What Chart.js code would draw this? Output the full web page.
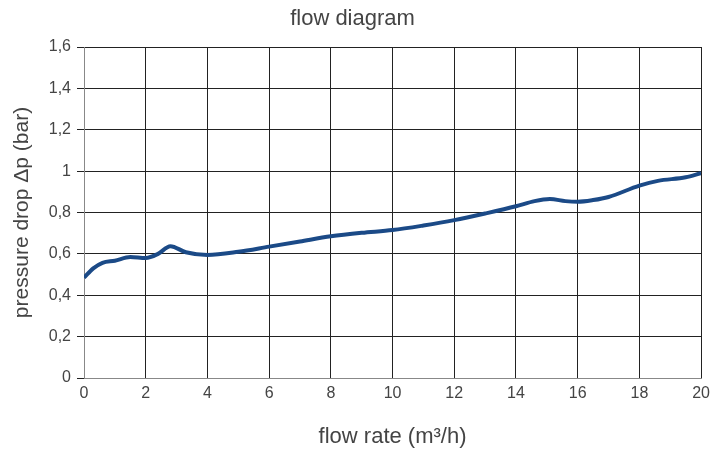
<!DOCTYPE html>
<html>
<head>
<meta charset="utf-8">
<script src="https://cdn.jsdelivr.net/npm/chart.js@4"></script>
<style>
  body { margin: 0; background: #fff; }
  canvas { display: block; }
</style>
</head>
<body>
<canvas id="flowChart" width="716" height="450"></canvas>
<script>
// flow rate (m3/h) and pressure drop (bar)
const flowRate = [0, 0.3, 0.6, 1, 1.5, 2, 2.4, 2.8, 3.3, 4, 5, 6, 7, 8, 9, 10, 11, 12, 13, 14, 14.6, 15.1, 15.6, 16, 16.5, 17, 18, 18.6, 19.5, 20];
const pressureDrop = [0.485, 0.53, 0.557, 0.567, 0.585, 0.58, 0.6, 0.637, 0.608, 0.595, 0.61, 0.635, 0.66, 0.685, 0.702, 0.715, 0.737, 0.763, 0.795, 0.83, 0.855, 0.865, 0.855, 0.852, 0.86, 0.875, 0.93, 0.953, 0.97, 0.99];

const xTicks = [0, 2, 4, 6, 8, 10, 12, 14, 16, 18, 20];
const yTicks = [0, 0.2, 0.4, 0.6, 0.8, 1, 1.2, 1.4, 1.6];

const fontFamily = "'Liberation Sans', Arial, sans-serif";
const textColor = "#444";

const points = flowRate.map((x, i) => ({ x: x, y: pressureDrop[i] }));

const ctx = document.getElementById("flowChart").getContext("2d");
const flowChart = new Chart(ctx, {
  type: "scatter",
  data: {
    datasets: [{
      data: points,
      showLine: true,
      borderColor: "#1b4a87",
      borderWidth: 4,
      pointRadius: 0,
      cubicInterpolationMode: "monotone",
      fill: false
    }]
  },
  options: {
    responsive: false,
    animation: false,
    layout: { padding: { left: 0, right: 11, top: 0, bottom: 0 } },
    plugins: {
      legend: { display: false },
      tooltip: { enabled: false },
      title: {
        display: true,
        text: "flow diagram",
        color: textColor,
        font: { family: fontFamily, size: 22, weight: "normal" },
        padding: { top: 6, bottom: 14.6 }
      }
    },
    scales: {
      x: {
        type: "linear",
        min: 0,
        max: 20,
        afterBuildTicks: (scale) => { scale.ticks = xTicks.map(v => ({ value: v })); },
        afterFit: (scale) => { scale.height = 72; },
        ticks: {
          color: textColor,
          font: { family: fontFamily, size: 16 },
          padding: 6,
          maxRotation: 0
        },
        grid: { color: "#222", lineWidth: 1, tickLength: 0 },
        border: { color: "#888", width: 1 },
        title: {
          display: true,
          text: "flow rate (m³/h)",
          color: textColor,
          font: { family: fontFamily, size: 22 },
          padding: { top: 20, bottom: 0 }
        }
      },
      y: {
        type: "linear",
        min: 0,
        max: 1.6,
        afterBuildTicks: (scale) => { scale.ticks = yTicks.map(v => ({ value: v })); },
        afterFit: (scale) => { scale.width = 84; },
        ticks: {
          color: textColor,
          font: { family: fontFamily, size: 16 },
          padding: 6,
          callback: (v) => String(Math.round(v * 10) / 10).replace(".", ",")
        },
        grid: { color: "#222", lineWidth: 1, tickLength: 7 },
        border: { color: "#888", width: 1 },
        title: {
          display: true,
          text: "pressure drop Δp (bar)",
          color: textColor,
          font: { family: fontFamily, size: 21 },
          padding: { top: 10, bottom: 0 }
        }
      }
    }
  }
});
</script>
</body>
</html>
